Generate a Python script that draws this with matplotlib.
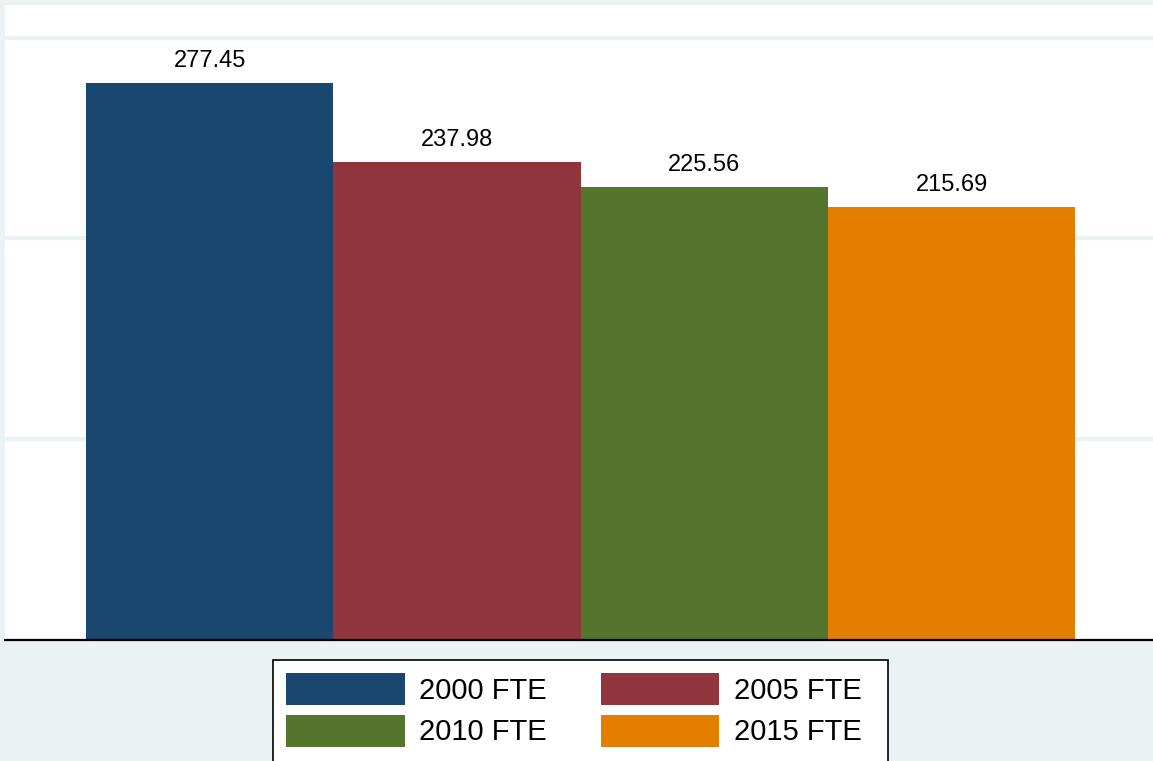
import numpy as np
import matplotlib.pyplot as plt
from matplotlib.patches import Patch, Rectangle

plt.rcParams['font.family'] = ['Liberation Sans', 'DejaVu Sans']

# data
labels = ['2000 FTE', '2005 FTE', '2010 FTE', '2015 FTE']
values = [277.45, 237.98, 225.56, 215.69]
colors = ['#1A476F', '#90353B', '#55752F', '#E37E00']
bg = '#EAF2F3'

W, H = 1153, 761
fig = plt.figure(figsize=(W / 100, H / 100), dpi=100, facecolor=bg)
ax = fig.add_axes([5 / W, 121 / H, 1152 / W, 635 / H])
ax.set_facecolor('white')

x = np.arange(len(values))
ax.bar(x, values, width=1.0, color=colors, zorder=2)

for xi, v in zip(x, values):
    ax.annotate(f'{v:.2f}', (xi, v), xytext=(0, 11.5), textcoords='offset points',
                ha='center', va='baseline', fontsize=17)

ax.set_xlim(-0.8275, -0.8275 + 1152 / 247.3)
ax.set_ylim(0, 316.2)
ax.set_yticks([100, 200, 300])
ax.grid(axis='y', color=bg, linewidth=3.2, zorder=0)
ax.set_axisbelow(True)
ax.tick_params(left=False, bottom=False, labelleft=False, labelbottom=False)
for s in ['left', 'right', 'top']:
    ax.spines[s].set_visible(False)
ax.spines['bottom'].set_linewidth(1.6)
ax.spines['bottom'].set_color('black')
ax.spines['bottom'].set_zorder(3)

# legend box (runs off the bottom edge like the original)
fig.patches.append(Rectangle((273 / W, -0.1), (888 - 273) / W, 0.1 + 101 / H,
                             transform=fig.transFigure, facecolor='white',
                             edgecolor='black', linewidth=1.2, zorder=1))

handles = [Patch(facecolor=c, edgecolor='none') for c in colors]
order = [0, 2, 1, 3]
leg = fig.legend([handles[i] for i in order], [labels[i] for i in order], ncol=2,
                 loc='upper left', bbox_to_anchor=(273 / W, 1 - 660 / H),
                 fontsize=21, frameon=False, handlelength=4.07, handleheight=1.31,
                 handletextpad=0.5, columnspacing=1.83, labelspacing=0.33,
                 borderpad=0.45, borderaxespad=0)
leg.set_zorder(2)

fig.savefig('out.png', dpi=100, facecolor=bg)
